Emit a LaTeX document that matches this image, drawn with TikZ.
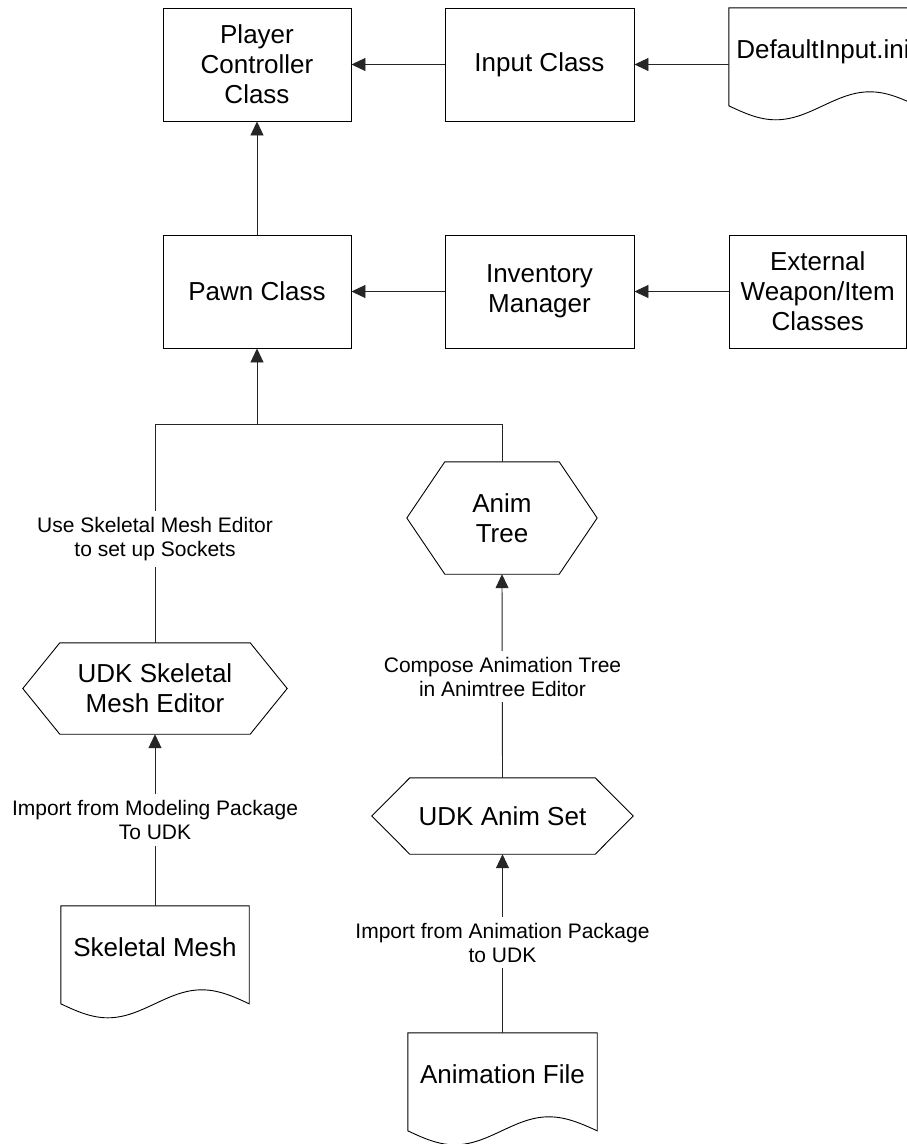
\documentclass[tikz,border=0pt]{standalone}
\usepackage{fontspec}
\setmainfont{Liberation Sans}
\usetikzlibrary{arrows.meta,calc}
\newcommand\drawdocshape[1]{%
  \draw[outline] (#1.north west) -- ($(#1.north west)+(0,98)$)
    sin ($(#1.north west)+(47,112)$) cos ($(#1.north west)+(94,98)$)
    sin ($(#1.north west)+(141,84)$) cos ($(#1.north east)+(0,98)$)
    -- (#1.north east) -- cycle;}
\newcommand\drawhexshape[2]{%
  \draw[outline] (#1.west) -- ($(#1.north west)+(#2,0)$) -- ($(#1.north east)+(-#2,0)$)
    -- (#1.east) -- ($(#1.south east)+(-#2,0)$) -- ($(#1.south west)+(#2,0)$) -- cycle;}
\begin{document}
\begin{tikzpicture}[x=1pt,y=-1pt,
  every node/.style={font=\fontsize{26}{30}\selectfont, align=center, text=black},
  box/.style={draw=black, line width=0.9pt, minimum height=113, inner sep=0pt},
  hexnode/.style={inner sep=0pt},
  docnode/.style={minimum height=113, inner sep=0pt, text height=18.6pt, text depth=31pt},
  lbl/.style={font=\fontsize{21}{24}\selectfont, fill=white, inner xsep=3pt, inner ysep=6pt},
  outline/.style={draw=black, line width=0.9pt},
  line/.style={draw=black!85, line width=0.9pt},
  arr/.style={line, -{Triangle[length=14pt,width=13pt]}}]
\clip (0,0) rectangle (907,1144);
\fill[white] (0,0) rectangle (907,1144);

% top row
\node[box, minimum width=188] (pc) at (257,64.5) {Player\\Controller\\Class};
\node[box, minimum width=189] (ic) at (539.5,64.5) {Input Class};
\node[docnode, minimum width=188] (di) at (823,64.5) {DefaultInput.ini};
\drawdocshape{di}

% second row
\node[box, minimum width=188] (pawn) at (257,291.5) {Pawn Class};
\node[box, minimum width=189] (inv) at (539.5,291.5) {Inventory\\Manager};
\node[box, minimum width=177.5] (ext) at (817.75,291.5) {External\\Weapon/Item\\Classes};

% hexagons
\node[hexnode, minimum width=190, minimum height=112] (at) at (502,518) {Anim\\Tree};
\drawhexshape{at}{38}
\node[hexnode, minimum width=264, minimum height=91] (skm) at (155,688.5) {UDK Skeletal\\Mesh Editor};
\drawhexshape{skm}{37}
\node[hexnode, minimum width=261, minimum height=76] (uas) at (502.5,816) {UDK Anim Set};
\drawhexshape{uas}{38}

% documents
\node[docnode, minimum width=188] (sm) at (155,962.5) {Skeletal Mesh};
\drawdocshape{sm}
\node[docnode, minimum width=189] (af) at (502.5,1089.5) {Animation File};
\drawdocshape{af}

% connectors
\draw[arr] (ic.west) -- (pc.east);
\draw[arr] (di.west) -- (ic.east);
\draw[arr] (pawn.north) -- (pc.south);
\draw[arr] (inv.west) -- (pawn.east);
\draw[arr] (ext.west) -- (inv.east);
\coordinate (j) at (257,424);
\draw[line] (skm.north) |- (j);
\draw[line] (at.north) |- (j);
\draw[arr] (j) -- (pawn.south);
\draw[arr] (sm.north) -- (skm.south);
\draw[arr] (uas.north) -- (at.south);
\draw[arr] (af.north) -- (uas.south);

% labels
\node[lbl] (l1) at (155,539) {Use Skeletal Mesh Editor\\to set up Sockets};
\node[lbl] (l2) at (155,820) {Import from Modeling Package\\To UDK};
\node[lbl] (l3) at (502.5,676.5) {Compose Animation Tree\\in Animtree Editor};
\node[lbl] (l4) at (502.5,942.5) {Import from Animation Package\\to UDK};
\end{tikzpicture}
\end{document}
